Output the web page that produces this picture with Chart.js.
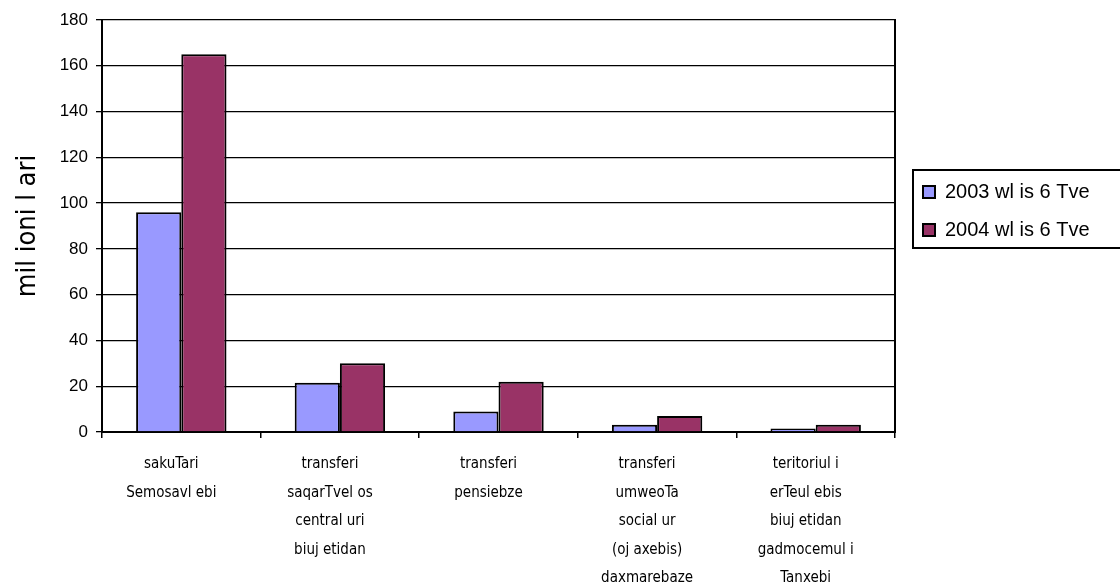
<!DOCTYPE html>
<html>
<head>
<meta charset="utf-8">
<script src="https://cdn.jsdelivr.net/npm/chart.js@4.4.1/dist/chart.umd.min.js"></script>
<style>
  html, body { margin: 0; padding: 0; background: #fff; overflow: hidden; }
  #wrap { width: 1120px; height: 582px; }
</style>
</head>
<body>
<div id="wrap"><canvas id="myChart"></canvas></div>
<script>
const categories = [
  ["sakuTari", "Semosavl ebi"],
  ["transferi", "saqarTvel os", "central uri", "biuj etidan"],
  ["transferi", "pensiebze"],
  ["transferi", "umweoTa", "social ur", "(oj axebis)", "daxmarebaze"],
  ["teritoriul i", "erTeul ebis", "biuj etidan", "gadmocemul i", "Tanxebi"]
]
const series2003 = [96, 21.5, 9, 3.2, 1.5]
const series2004 = [165, 30, 22, 7, 3.2]
const seriesNames = ["2003 wl is 6 Tve", "2004 wl is 6 Tve"]
const yTicks = [0, 20, 40, 60, 80, 100, 120, 140, 160, 180]
const yTitle = "mil ioni l ari"

const narrow = "'DejaVu Sans Condensed', sans-serif"
const arial = "'Liberation Sans', Arial, sans-serif"
const legendWidth = 215

// box round the legend, the right side runs off the page like in the original
const legendFrame = {
  id: "legendFrame",
  beforeLayout(chart) {
    // fixed legend width so the plot ends where the original one does
    const lg = chart.legend
    if (lg && !lg._fixedFit) {
      const fit = lg.fit.bind(lg)
      lg.fit = function () { fit(); this.width = legendWidth }
      lg._fixedFit = true
    }
  },
  afterDraw(chart) {
    const boxes = chart.legend.legendHitBoxes
    if (!boxes || !boxes.length) return
    const ctx = chart.ctx
    const top = Math.min(...boxes.map(b => b.top)) - 12
    const bottom = Math.max(...boxes.map(b => b.top + b.height)) + 8
    const left = boxes[0].left - 10
    ctx.save()
    ctx.strokeStyle = "#000"
    ctx.lineWidth = 2
    ctx.strokeRect(left, top, chart.width + 20 - left, bottom - top)
    ctx.restore()
  }
}

const create_chart = () => {
  let chart = document.getElementById("myChart")
  new Chart(chart, {
    type: "bar",
    data: {
      labels: categories,
      datasets: [{
        label: seriesNames[0],
        data: series2003,
        backgroundColor: "#9999FF",
        borderColor: "#000",
        borderWidth: 2,
        categoryPercentage: 0.57,
        barPercentage: 1.0
      }, {
        label: seriesNames[1],
        data: series2004,
        backgroundColor: "#993366",
        borderColor: "#000",
        borderWidth: 2,
        categoryPercentage: 0.57,
        barPercentage: 1.0
      }]
    },
    options: {
      responsive: true,
      maintainAspectRatio: false,
      animation: false,
      layout: { padding: { top: 20, right: 0, left: 0, bottom: 0 } },
      plugins: {
        legend: {
          position: "right",
          align: "start",
          title: { display: true, text: " ", padding: { top: 132, bottom: 0 }, font: { size: 10 } },
          labels: {
            color: "#000",
            boxWidth: 12,
            boxHeight: 12,
            padding: 18,
            font: { family: arial, size: 20 }
          }
        },
        tooltip: { enabled: false }
      },
      scales: {
        x: {
          grid: { drawOnChartArea: false, color: "#000", lineWidth: 1.5, tickLength: 6, offset: true },
          border: { color: "#000", width: 2 },
          afterFit(scale) { scale.height = 150 },
          ticks: {
            color: "#000",
            maxRotation: 0,
            autoSkip: false,
            padding: 12,
            labelOffset: -10,
            font: { family: narrow, size: 15, lineHeight: 1.9 }
          }
        },
        y: {
          min: 0,
          max: 180,
          afterBuildTicks(scale) { scale.ticks = yTicks.map(v => ({ value: v })) },
          afterFit(scale) { scale.width = 102 },
          grid: { color: "#000", lineWidth: 1.3, tickLength: 6 },
          border: { color: "#000", width: 2 },
          ticks: {
            color: "#000",
            padding: 8,
            font: { family: arial, size: 17 }
          },
          title: {
            display: true,
            text: yTitle,
            color: "#000",
            padding: { top: 12, bottom: 0 },
            font: { family: narrow, size: 27 }
          }
        },
        // empty right axis, only its border line closes the plot area
        yRight: {
          position: "right",
          min: 0,
          max: 180,
          afterFit(scale) { scale.width = 10 },
          grid: { display: false },
          border: { color: "#000", width: 2 },
          ticks: { display: false }
        }
      }
    },
    plugins: [legendFrame]
  })
}
create_chart()
</script>
</body>
</html>
